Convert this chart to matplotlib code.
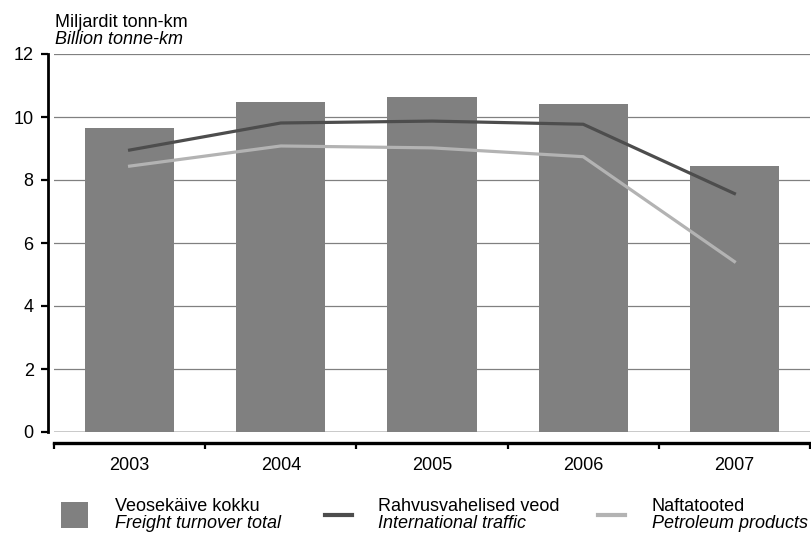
import matplotlib
matplotlib.use("Agg")
import matplotlib.pyplot as plt
from matplotlib.lines import Line2D
from matplotlib.patches import Rectangle
import numpy as np

years = ["2003", "2004", "2005", "2006", "2007"]
freight_total = [9.65, 10.48, 10.63, 10.41, 8.44]
international = [8.95, 9.81, 9.87, 9.77, 7.57]
petroleum = [8.44, 9.08, 9.02, 8.74, 5.41]
yticks = [0, 2, 4, 6, 8, 10, 12]

plt.rcParams['font.family'] = ['Liberation Sans', 'DejaVu Sans']
FS = 13

W, H = 812, 533
fig = plt.figure(figsize=(W / 100, H / 100), dpi=100)
ax = fig.add_axes([54 / W, (H - 432) / H, (810 - 54) / W, (432 - 54) / H])

x = np.arange(len(years))
bar_c = "#808080"
dark_c = "#4d4d4d"
light_c = "#b3b3b3"

for yv in yticks[1:]:
    ax.axhline(yv, color="#808080", lw=0.9, zorder=0)
ax.axhline(0, color="#c0c0c0", lw=1.2, zorder=0)

ax.bar(x, freight_total, width=0.59, color=bar_c, zorder=2)
ax.plot(x, international, color=dark_c, lw=2.3, zorder=3)
ax.plot(x, petroleum, color=light_c, lw=2.3, zorder=3)

ax.set_xlim(-0.5, len(years) - 0.5)
ax.set_ylim(0, 12)

for s in ["top", "right"]:
    ax.spines[s].set_visible(False)
ax.spines["left"].set_position(("outward", 4.6))
ax.spines["left"].set_linewidth(2)
ax.spines["left"].set_bounds(0, 12)
ax.spines["bottom"].set_position(("outward", 8))
ax.spines["bottom"].set_linewidth(2.4)

ax.set_yticks(yticks)
ax.set_yticklabels([str(v) for v in yticks])
ax.tick_params(axis="y", length=5, width=1.6, pad=5, labelsize=FS, colors="black")

ax.set_xticks(x)
ax.set_xticklabels(years)
ax.set_xticks(np.arange(-0.5, len(years)), minor=True)
ax.tick_params(axis="x", which="major", length=0, pad=10, labelsize=FS)
ax.tick_params(axis="x", which="minor", length=4, width=1.6, direction="out")

# axis title
fig.text(55 / W, 1 - 27 / H, "Miljardit tonn-km", fontsize=FS, ha="left", va="baseline")
fig.text(55 / W, 1 - 44 / H, "Billion tonne-km", fontsize=FS, style="italic", ha="left", va="baseline")

# legend
fig.patches.append(Rectangle((61 / W, 1 - 528 / H), 27 / W, 26 / H, transform=fig.transFigure,
                             facecolor=bar_c, edgecolor="none"))
fig.lines.append(Line2D([325 / W, 352 / W], [1 - 515 / H] * 2, transform=fig.transFigure,
                        color=dark_c, lw=3))
fig.lines.append(Line2D([598 / W, 625 / W], [1 - 515 / H] * 2, transform=fig.transFigure,
                        color=light_c, lw=3))
leg = [(115, "Veosekäive kokku", "Freight turnover total"),
       (378, "Rahvusvahelised veod", "International traffic"),
       (652, "Naftatooted", "Petroleum products")]
for lx, l1, l2 in leg:
    fig.text(lx / W, 1 - 511 / H, l1, fontsize=FS, ha="left", va="baseline")
    fig.text(lx / W, 1 - 528 / H, l2, fontsize=FS, style="italic", ha="left", va="baseline")

fig.savefig("out.png", dpi=100)
